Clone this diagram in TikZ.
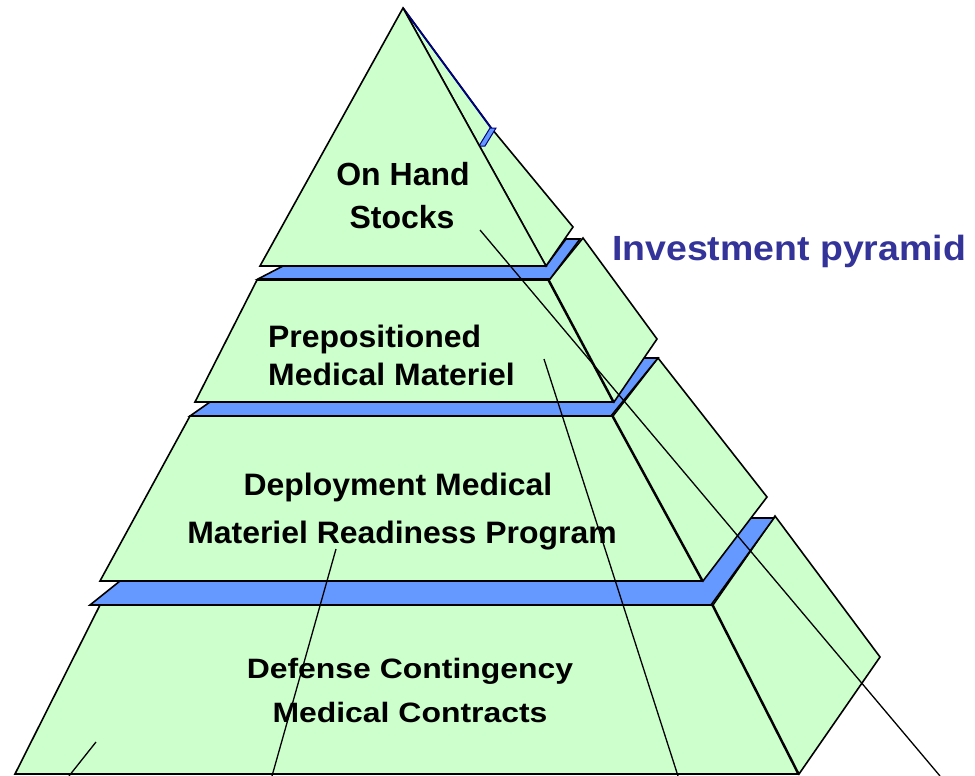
\documentclass[tikz,border=0pt]{standalone}
\usepackage{fontspec}
\newfontfamily\fA{Liberation Sans}
\newfontfamily\fB{Liberation Sans}[FakeStretch=1.03]
\newfontfamily\fC{Liberation Sans}[FakeStretch=1.14]
\newfontfamily\fT{Liberation Sans}[FakeStretch=1.07]
\definecolor{pgreen}{HTML}{CCFFCC}
\definecolor{pblue}{HTML}{6699FF}
\definecolor{tblue}{HTML}{333399}
\definecolor{navy}{HTML}{000080}
\begin{document}
\begin{tikzpicture}[x=1pt,y=-1pt,
  face/.style={fill=pgreen,draw=black,line width=1.6pt,line join=miter},
  plate/.style={fill=pblue,draw=black,line width=1.6pt,line join=miter},
  thinline/.style={draw=black,line width=1.3pt},
  lblA/.style={inner sep=0pt,anchor=base,font=\fA\bfseries\fontsize{32}{38}\selectfont},
  lblB/.style={inner sep=0pt,anchor=base,font=\fB\bfseries\fontsize{31}{37}\selectfont},
  lblC/.style={inner sep=0pt,anchor=base,font=\fC\bfseries\fontsize{28}{34}\selectfont},
  ttl/.style={inner sep=0pt,anchor=base west,text=tblue,font=\fT\bfseries\fontsize{35}{42}\selectfont}]
\useasboundingbox (0,0) rectangle (975,776);
\fill[white] (0,0) rectangle (975,776);

% tier 4 (bottom)
\draw[face] (100,605) -- (712,605) -- (798,774) -- (15,774) -- cycle;
\draw[face] (713,605) -- (775,516) -- (880,657) -- (799,774) -- cycle;
% plate 3
\draw[plate] (120,581) -- (702,581) -- (750,518) -- (774,518) -- (711,605) -- (90,605) -- cycle;
% tier 3
\draw[face] (190,416) -- (612,416) -- (702,581) -- (100,581) -- cycle;
\draw[face] (613,416) -- (658,358) -- (767,497) -- (703,581) -- cycle;
% plate 2
\draw[plate] (210,402) -- (613,402) -- (643,358) -- (658,358) -- (611,416) -- (190,416) -- cycle;
% tier 2
\draw[face] (257,280) -- (548,280) -- (613,402) -- (195,402) -- cycle;
\draw[face] (549,280) -- (583,238) -- (657,339) -- (614,402) -- cycle;
% plate 1
\draw[plate] (283,266) -- (546,266) -- (566,239) -- (580,239) -- (550,279) -- (258,279) -- cycle;
% tier 1
\draw[face] (403,8) -- (492,129) -- (573,227) -- (546,266) -- cycle;
\draw[navy,line width=1.8pt] (403,8) -- (491,128);
\draw[fill=pblue,draw=navy,line width=1pt] (479,146) -- (490,128) -- (496,128) -- (485,146) -- cycle;
\draw[face] (403,8) -- (546,266) -- (260,266) -- cycle;

% thin lines
\coordinate (l1a) at (480,230); \coordinate (l1b) at (940,776);
\coordinate (l2a) at (544,359); \coordinate (l2b) at (678,776);
\coordinate (l3a) at (336,549); \coordinate (l3b) at (272,776);
\coordinate (l4a) at (96,742);  \coordinate (l4b) at (69,776);
\draw[thinline] (l1a) -- (l1b);
\draw[thinline] (l2a) -- (l2b);
\draw[thinline] (l3a) -- (l3b);
\draw[thinline] (l4a) -- (l4b);

% labels
\node[lblA] (t1a) at (403,185) {On Hand};
\node[lblA] (t1b) at (402,228) {Stocks};
\node[lblB,anchor=base west] (t2a) at (268,347) {Prepositioned};
\node[lblB,anchor=base west] (t2b) at (268,385) {Medical Materiel};
\node[lblB] (t3a) at (398,495) {Deployment Medical};
\node[lblB] (t3b) at (402,543) {Materiel Readiness Program};
\node[lblC] (t4a) at (410,678) {Defense Contingency};
\node[lblC] (t4b) at (410,722) {Medical Contracts};
\node[ttl] (ttl) at (612,260) {Investment pyramid};
\end{tikzpicture}
\end{document}
